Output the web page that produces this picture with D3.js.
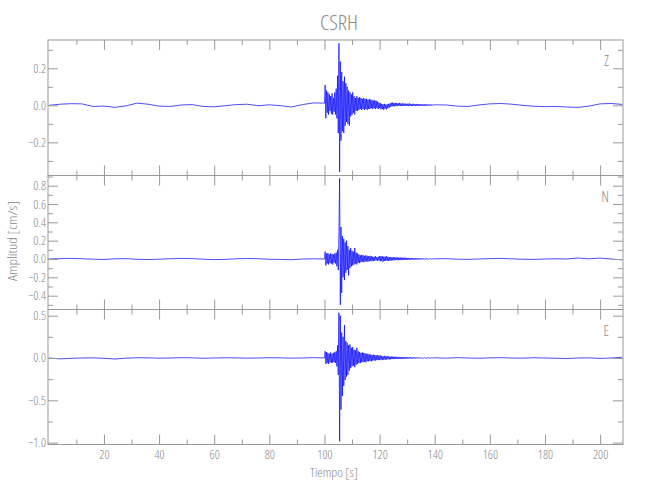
<!DOCTYPE html>
<html><head><meta charset="utf-8">
<script src="https://cdn.jsdelivr.net/npm/d3@7"></script>
<style>
body{margin:0;background:#fff}
text{font-family:"Open Sans","DejaVu Sans",sans-serif;font-weight:300;font-stretch:75%;fill:#888}
</style>
</head><body><svg id="c" width="650" height="500"></svg>
<script>
// ---------- text ----------
const title = "CSRH";
const components = ["Z", "N", "E"];
const xLabel = "Tiempo [s]";
const yLabel = "Amplitud [cm/s]";

// ---------- axes ----------
const xMajorTicks = [20, 40, 60, 80, 100, 120, 140, 160, 180, 200];
const xMinorTicks = [10, 30, 50, 70, 90, 110, 130, 150, 170, 190];
const xDomain = [-0.3, 208.3];
const zDomain = [-0.379, 0.353];
const nDomain = [-0.551, 0.911];
const eDomain = [-1.022, 0.573];
const zMajorTicks = [-0.2, 0.0, 0.2];
const zMinorTicks = [-0.3, -0.1, 0.1, 0.3];
const nMajorTicks = [-0.4, -0.2, 0.0, 0.2, 0.4, 0.6, 0.8];
const nMinorTicks = [-0.5, -0.3, -0.1, 0.1, 0.3, 0.5, 0.7, 0.9];
const eMajorTicks = [-1.0, -0.5, 0.0, 0.5];
const eMinorTicks = [-0.75, -0.25, 0.25];

// ---------- sampling ----------
const slowStep = 4;        // s, background samples
const preStart = 0;        // pre-event samples from 0 to 96 s
const burstStart = 100;    // s
const burstStep = 0.25;    // s
const postStart = 144;     // s

// ---------- Z component ----------
const zPre = [0.0, 0.006, 0.009, 0.008, -0.006, -0.004, -0.011, -0.003, 0.012, 0.006, -0.004, -0.006, 0.002, 0.004, -0.006, -0.008, -0.002, 0.004, 0.006, -0.002, 0.003, -0.002, -0.009, 0.004, 0.013];
const zBurst = [
  0.012, 0.11, -0.07, 0.08, -0.04, 0.07, -0.05, 0.06,
  -0.03, 0.05, -0.045, 0.065, -0.05, 0.04, -0.035, 0.07,
  -0.05, 0.09, -0.07, 0.16, -0.15, 0.335, -0.36, 0.236,
  -0.19, 0.18, -0.14, 0.13, -0.15, 0.155, -0.11, 0.12,
  -0.09, 0.10, -0.10, 0.08, -0.11, 0.07, -0.06, 0.06,
  -0.05, 0.07, -0.04, 0.05, -0.05, 0.04, -0.03, 0.05,
  -0.03, 0.04, -0.025, 0.045, -0.02, 0.04, -0.025, 0.035,
  -0.02, 0.04, -0.025, 0.035, -0.02, 0.035, -0.025, 0.03,
  -0.02, 0.035, -0.02, 0.03, -0.015, 0.03, -0.02, 0.025,
  -0.015, 0.028, -0.02, 0.025, -0.015, 0.02, -0.02, 0.015,
  -0.015, 0.012, -0.022, 0.008, -0.02, 0.006, -0.024, 0.008,
  -0.018, 0.004, -0.022, 0.006, -0.016, 0.008, -0.012, 0.01,
  -0.008, 0.014, -0.006, 0.015, -0.004, 0.013, -0.006, 0.012,
  -0.003, 0.013, -0.004, 0.011, -0.003, 0.013, -0.004, 0.01,
  -0.003, 0.011, -0.004, 0.009, -0.002, 0.01, -0.003, 0.008,
  -0.003, 0.009, -0.004, 0.01, -0.002, 0.008, -0.004, 0.007,
  -0.003, 0.009, -0.002, 0.006, -0.004, 0.008, -0.002, 0.007,
  -0.003, 0.006, -0.002, 0.007, -0.003, 0.005, -0.002, 0.006,
  -0.002, 0.005, -0.003, 0.006, -0.001, 0.005, -0.002, 0.005,
  -0.001, 0.004, -0.002, 0.005, -0.001, 0.004, 0.0, 0.003,
  0.003];
const zPost = [0.002, -0.004, -0.006, 0.002, 0.008, 0.01, 0.006, 0.0, -0.005, -0.007, -0.006, -0.009, -0.011, -0.004, 0.008, 0.01, 0.005];

// ---------- N component ----------
const nPre = [0.0, 0.004, 0.006, 0.003, -0.002, -0.005, 0.002, 0.004, -0.003, -0.006, -0.002, 0.003, 0.006, 0.004, -0.002, -0.006, -0.004, 0.002, 0.005, 0.003, -0.003, -0.005, -0.008, 0.0, 0.002];
const nBurst = [
  0.0, 0.08, -0.07, 0.06, -0.05, 0.065, -0.06, 0.05,
  -0.045, 0.06, -0.05, 0.055, -0.06, 0.05, -0.04, 0.06,
  -0.05, 0.07, -0.08, 0.1, -0.12, 0.3, 0.88, -0.5,
  0.35, -0.37, 0.25, -0.2, 0.22, -0.23, 0.18, -0.15,
  0.2, -0.12, 0.14, -0.18, 0.1, -0.1, 0.12, -0.08,
  0.09, -0.07, 0.08, -0.06, 0.12, -0.05, 0.07, -0.06,
  0.06, -0.04, 0.05, -0.045, 0.04, -0.035, 0.045, -0.03,
  0.04, -0.035, 0.035, -0.03, 0.04, -0.025, 0.035, -0.03,
  0.03, -0.025, 0.035, -0.02, 0.03, -0.025, 0.025, -0.02,
  0.025, -0.02, 0.03, -0.015, 0.02, -0.02, 0.025, -0.015,
  0.03, -0.025, 0.032, -0.02, 0.028, -0.03, 0.025, -0.022,
  0.026, -0.02, 0.03, -0.018, 0.024, -0.022, 0.02, -0.018,
  0.02, -0.016, 0.018, -0.015, 0.02, -0.014, 0.018, -0.012,
  0.018, -0.012, 0.016, -0.014, 0.017, -0.011, 0.015, -0.012,
  0.015, -0.011, 0.014, -0.01, 0.015, -0.01, 0.013, -0.01,
  0.012, -0.009, 0.012, -0.008, 0.011, -0.008, 0.01, -0.007,
  0.01, -0.007, 0.009, -0.006, 0.01, -0.006, 0.008, -0.005,
  0.008, -0.005, 0.007, -0.005, 0.008, -0.004, 0.006, -0.004,
  0.006, -0.003, 0.005, -0.004, 0.006, -0.002, 0.005, -0.003,
  0.004, -0.002, 0.004, -0.002, 0.003, 0.0, 0.003, 0.001,
  0.002];
const nPost = [0.004, -0.002, -0.004, 0.0, 0.004, 0.006, 0.002, -0.003, -0.004, 0.0, 0.002, 0.0, 0.011, 0.002, 0.01, 0.0, -0.01];

// ---------- E component ----------
const ePre = [0.0, -0.01, -0.004, 0.0, 0.002, -0.004, -0.012, -0.002, 0.003, 0.002, -0.002, 0.0, 0.004, 0.002, -0.003, 0.0, 0.003, 0.001, -0.002, 0.0, 0.003, 0.002, -0.002, 0.0, 0.004];
const eBurst = [
  0.0, 0.08, -0.07, 0.07, -0.06, 0.06, -0.07, 0.05,
  -0.05, 0.065, -0.06, 0.05, -0.055, 0.06, -0.05, 0.07,
  -0.06, 0.08, -0.1, 0.15, -0.2, 0.535, -0.985, 0.5,
  -0.61, 0.3, -0.45, 0.25, -0.33, 0.39, -0.26, 0.2,
  -0.22, 0.18, -0.2, 0.15, -0.15, 0.16, -0.12, 0.12,
  -0.1, 0.13, -0.09, 0.1, -0.11, 0.09, -0.08, 0.12,
  -0.07, 0.08, -0.06, 0.07, -0.06, 0.06, -0.05, 0.065,
  -0.05, 0.06, -0.045, 0.055, -0.05, 0.05, -0.04, 0.05,
  -0.04, 0.045, -0.035, 0.04, -0.04, 0.035, -0.03, 0.04,
  -0.03, 0.035, -0.03, 0.03, -0.025, 0.035, -0.025, 0.03,
  -0.025, 0.03, -0.02, 0.025, -0.025, 0.02, -0.02, 0.025,
  -0.02, 0.02, -0.018, 0.022, -0.015, 0.02, -0.018, 0.016,
  -0.015, 0.018, -0.014, 0.015, -0.012, 0.016, -0.013, 0.014,
  -0.012, 0.014, -0.01, 0.012, -0.011, 0.013, -0.01, 0.011,
  -0.01, 0.012, -0.009, 0.01, -0.008, 0.011, -0.008, 0.01,
  -0.008, 0.009, -0.007, 0.008, -0.007, 0.009, -0.006, 0.008,
  -0.006, 0.007, -0.005, 0.007, -0.005, 0.006, -0.005, 0.006,
  -0.004, 0.006, -0.004, 0.005, -0.004, 0.005, -0.003, 0.004,
  -0.003, 0.005, -0.003, 0.004, -0.002, 0.004, -0.002, 0.003,
  -0.002, 0.004, -0.001, 0.003, -0.001, 0.003, 0.0, 0.003,
  0.003];
const ePost = [-0.002, 0.004, 0.0, -0.003, 0.002, 0.004, 0.0, -0.002, 0.003, 0.0, -0.003, -0.006, 0.0, 0.002, -0.005, 0.0, 0.008];

// ---------- build ----------
function series(pre, burst, post) {
  const pts = [];
  pre.forEach((v, i) => pts.push([preStart + i * slowStep, v]));
  burst.forEach((v, i) => pts.push([burstStart + i * burstStep, v]));
  post.forEach((v, i) => pts.push([postStart + i * slowStep, v]));
  return pts;
}

const panels = [
  {name: components[0], data: series(zPre, zBurst, zPost), domain: zDomain, major: zMajorTicks, minor: zMinorTicks, top: 40, bottom: 175.5},
  {name: components[1], data: series(nPre, nBurst, nPost), domain: nDomain, major: nMajorTicks, minor: nMinorTicks, top: 175.5, bottom: 309.5},
  {name: components[2], data: series(ePre, eBurst, ePost), domain: eDomain, major: eMajorTicks, minor: eMinorTicks, top: 309.5, bottom: 444.5}
];

const L = 48, R = 623;
const axisColor = "#9a9a9a";
const svg = d3.select("#c");
const x = d3.scaleLinear().domain(xDomain).range([L, R]);
const fmt = d3.format(".1f");

function styleAxis(g) {
  g.select(".domain").remove();
  g.selectAll("line").attr("stroke", axisColor);
  g.selectAll("text").attr("fill", "#888").attr("font-family", null).style("font-size", "12.5px");
}

panels.forEach((p, idx) => {
  const y = d3.scaleLinear().domain(p.domain).range([p.bottom, p.top]);
  const g = svg.append("g");

  // signal
  g.append("path")
    .datum(p.data)
    .attr("fill", "none")
    .attr("stroke", "#0000ff")
    .attr("stroke-width", 0.7)
    .attr("stroke-linejoin", "round")
    .attr("d", d3.line().x(d => x(d[0])).y(d => y(d[1])));

  // box
  g.append("rect")
    .attr("x", L).attr("y", p.top)
    .attr("width", R - L).attr("height", p.bottom - p.top)
    .attr("fill", "none").attr("stroke", axisColor).attr("stroke-width", 1);

  // left axis
  g.append("g").attr("transform", `translate(${L},0)`)
    .call(d3.axisLeft(y).tickValues(p.major).tickSize(-10).tickSizeOuter(0).tickPadding(2).tickFormat(fmt))
    .call(styleAxis);
  g.append("g").attr("transform", `translate(${L},0)`)
    .call(d3.axisLeft(y).tickValues(p.minor).tickSize(-5).tickSizeOuter(0).tickFormat(""))
    .call(styleAxis);
  // right axis
  g.append("g").attr("transform", `translate(${R},0)`)
    .call(d3.axisRight(y).tickValues(p.major).tickSize(-10).tickSizeOuter(0).tickFormat(""))
    .call(styleAxis);
  g.append("g").attr("transform", `translate(${R},0)`)
    .call(d3.axisRight(y).tickValues(p.minor).tickSize(-5).tickSizeOuter(0).tickFormat(""))
    .call(styleAxis);
  // top axis
  g.append("g").attr("transform", `translate(0,${p.top})`)
    .call(d3.axisTop(x).tickValues(xMajorTicks).tickSize(-10).tickSizeOuter(0).tickFormat(""))
    .call(styleAxis);
  g.append("g").attr("transform", `translate(0,${p.top})`)
    .call(d3.axisTop(x).tickValues(xMinorTicks).tickSize(-5).tickSizeOuter(0).tickFormat(""))
    .call(styleAxis);
  // bottom axis
  const isLast = idx === panels.length - 1;
  g.append("g").attr("transform", `translate(0,${p.bottom})`)
    .call(d3.axisBottom(x).tickValues(xMajorTicks).tickSize(-10).tickSizeOuter(0).tickPadding(6)
      .tickFormat(isLast ? d3.format("d") : ""))
    .call(styleAxis);
  g.append("g").attr("transform", `translate(0,${p.bottom})`)
    .call(d3.axisBottom(x).tickValues(xMinorTicks).tickSize(-5).tickSizeOuter(0).tickFormat(""))
    .call(styleAxis);

  // component label
  g.append("text")
    .attr("x", 609).attr("y", p.top + 26)
    .attr("text-anchor", "end")
    .style("font-size", "14px")
    .text(p.name);
});

// title
svg.append("text")
  .attr("x", 339).attr("y", 30)
  .attr("text-anchor", "middle")
  .attr("textLength", 38).attr("lengthAdjust", "spacingAndGlyphs")
  .style("font-size", "21px")
  .text(title);

// x label
svg.append("text")
  .attr("x", 334).attr("y", 477)
  .attr("text-anchor", "middle")
  .attr("textLength", 48).attr("lengthAdjust", "spacingAndGlyphs")
  .style("font-size", "13px")
  .text(xLabel);

// y label
svg.append("text")
  .attr("transform", "translate(17,241) rotate(-90)")
  .attr("text-anchor", "middle")
  .attr("textLength", 80).attr("lengthAdjust", "spacingAndGlyphs")
  .style("font-size", "13px")
  .text(yLabel);
</script>
</body></html>
